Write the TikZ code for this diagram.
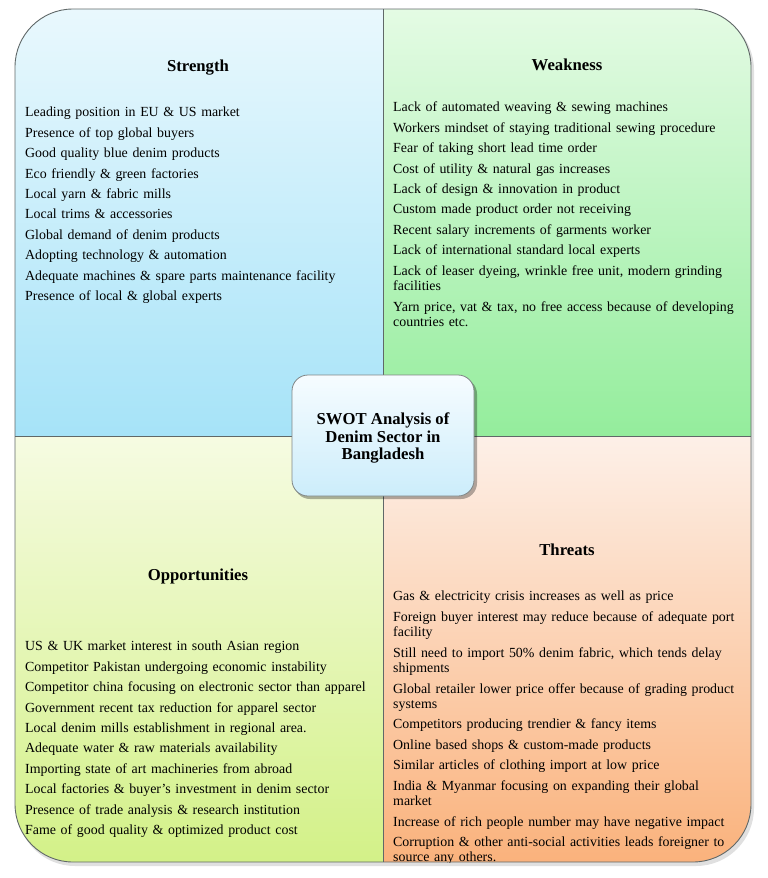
\documentclass[tikz,border=0pt]{standalone}
\usepackage{fontspec}
\setmainfont{Liberation Serif}
\usetikzlibrary{shadows}
\definecolor{sTop}{HTML}{E9F8FD}
\definecolor{sBot}{HTML}{A6E3F8}
\definecolor{wTop}{HTML}{E4FBE4}
\definecolor{wBot}{HTML}{94ED9C}
\definecolor{oTop}{HTML}{F6FBE2}
\definecolor{oBot}{HTML}{D3F188}
\definecolor{tTop}{HTML}{FDF0E8}
\definecolor{tBot}{HTML}{FAB27C}
\definecolor{cTop}{HTML}{F6FCFF}
\definecolor{cBot}{HTML}{CCEDFB}
\definecolor{frameCol}{HTML}{606868}
\tikzset{
  frameline/.style={draw=frameCol, line width=0.9pt},
  headtext/.style={font=\fontsize{16.7}{18}\selectfont\bfseries, inner sep=0pt},
  listtext/.style={anchor=north west, inner sep=0pt, text width=400pt, align=left,
    font=\fontsize{13.9}{15.5}\selectfont,
    execute at begin node=\setlength{\parskip}{4.9pt}},
  titletext/.style={font=\fontsize{16.7}{17.2}\selectfont\bfseries, align=center, inner sep=0pt}
}
\begin{document}
\begin{tikzpicture}[x=1pt,y=-1pt]
\useasboundingbox (0,0) rectangle (768,878);
\coordinate (TL) at (15,9);
\coordinate (BR) at (751,862);
\coordinate (MT) at (383,9);
\coordinate (MB) at (383,862);
\coordinate (ML) at (15,436);
\coordinate (MR) at (751,436);
% frame shadow
\fill[black, opacity=0.12, rounded corners=58pt] (17,12) rectangle (754,866);
\begin{scope}
\clip[rounded corners=58pt] (TL) rectangle (BR);
\shade[top color=sTop, bottom color=sBot] (15,9) rectangle (383,436);
\shade[top color=wTop, bottom color=wBot] (383,9) rectangle (751,436);
\shade[top color=oTop, bottom color=oBot] (15,436) rectangle (383,862);
\shade[top color=tTop, bottom color=tBot] (383,436) rectangle (751,862);
\end{scope}
\draw[frameline] (MT) -- (MB);
\draw[frameline] (ML) -- (MR);
\draw[frameline, rounded corners=58pt] (TL) rectangle (BR);

% headings
\node[headtext] (sHead) at (198,68) {Strength};
\node[headtext] (wHead) at (567,65) {Weakness};
\node[headtext] (oHead) at (198,576) {Opportunities};
\node[headtext] (tHead) at (567,550) {Threats};

% lists
\node[listtext] (sList) at (25,107) {%
Leading position in EU \& US market\par
Presence of top global buyers\par
Good quality blue denim products\par
Eco friendly \& green factories\par
Local yarn \& fabric mills\par
Local trims \& accessories\par
Global demand of denim products\par
Adopting technology \& automation\par
Adequate machines \& spare parts maintenance facility\par
Presence of local \& global experts};

\node[listtext] (wList) at (393,102) {%
Lack of automated weaving \& sewing machines\par
Workers mindset of staying traditional sewing procedure\par
Fear of taking short lead time order\par
Cost of utility \& natural gas increases\par
Lack of design \& innovation in product\par
Custom made product order not receiving\par
Recent salary increments of garments worker\par
Lack of international standard local experts\par
Lack of leaser dyeing, wrinkle free unit, modern grinding\newline facilities\par
Yarn price, vat \& tax, no free access because of developing\newline countries etc.};

\node[listtext] (oList) at (25,641) {%
US \& UK market interest in south Asian region\par
Competitor Pakistan undergoing economic instability\par
Competitor china focusing on electronic sector than apparel\par
Government recent tax reduction for apparel sector\par
Local denim mills establishment in regional area.\par
Adequate water \& raw materials availability\par
Importing state of art machineries from abroad\par
Local factories \& buyer’s investment in denim sector\par
Presence of trade analysis \& research institution\par
Fame of good quality \& optimized product cost};

\begin{scope}
\clip[rounded corners=58pt] (TL) rectangle (BR);
\node[listtext] (tList) at (393,591) {%
Gas \& electricity crisis increases as well as price\par
Foreign buyer interest may reduce because of adequate port\newline facility\par
Still need to import 50\% denim fabric, which tends delay\newline shipments\par
Global retailer lower price offer because of grading product\newline systems\par
Competitors producing trendier \& fancy items\par
Online based shops \& custom-made products\par
Similar articles of clothing import at low price\par
India \& Myanmar focusing on expanding their global\newline market\par
Increase of rich people number may have negative impact\par
Corruption \& other anti-social activities leads foreigner to\newline source any others.};
\end{scope}

% center box
\fill[black, opacity=0.3, rounded corners=16pt] (294,378) rectangle (477,499);
\shade[top color=cTop, bottom color=cBot, rounded corners=16pt] (292,375) rectangle (474,496);
\draw[draw=frameCol!80, line width=0.8pt, rounded corners=16pt] (292,375) rectangle (474,496);
\node[titletext] (title) at (383,438) {SWOT Analysis of\\Denim Sector in\\Bangladesh};
\end{tikzpicture}
\end{document}
